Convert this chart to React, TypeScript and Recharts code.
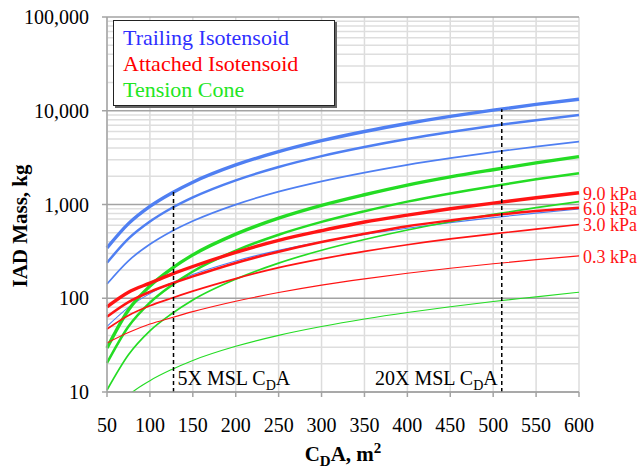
import {
  LineChart,
  Line,
  XAxis,
  YAxis,
  CartesianGrid,
  ReferenceLine,
  LabelList,
} from "recharts";

// C_D·A values the curves were read at (m²)
const cda = [50, 75, 100, 125, 150, 200, 250, 300, 350, 400, 450, 500, 550, 600];

// Trailing isotensoid mass, kg
const trailing9 = [344, 625, 955, 1320, 1730, 2640, 3660, 4790, 6010, 7310, 8700, 10150, 11680, 13270];
const trailing6 = [239, 432, 658, 912, 1190, 1810, 2510, 3280, 4100, 4990, 5920, 6910, 7940, 9020];
const trailing3 = [142, 251, 376, 515, 666, 998, 1370, 1765, 2190, 2650, 3120, 3620, 4140, 4680];
const trailing03 = [50, 80, 112, 145, 179, 250, 324, 400, 479, 559, 641, 725, 810, 895];

// Attached isotensoid mass, kg
const attached9 = [81, 116, 145, 180, 218, 308, 415, 525, 650, 770, 900, 1035, 1180, 1335];
const attached6 = [63.5, 91, 117, 143, 171, 238, 314, 398, 487, 587, 676, 767, 850, 925];
const attached3 = [47, 65.5, 83, 100, 119, 162, 212, 263, 316, 372, 429, 486, 546, 612];
const attached03 = [33.3, 43, 53, 62, 72, 93, 115, 138, 161, 185, 209, 233, 258, 283];

// Tension cone mass, kg
const cone9 = [29.5, 75, 135, 206, 290, 483, 714, 978, 1270, 1610, 1970, 2350, 2780, 3240];
const cone6 = [20.4, 50, 90, 137, 193, 322, 476, 652, 847, 1073, 1311, 1569, 1855, 2150];
const cone3 = [10.5, 25, 45, 68, 96, 160, 237, 325, 423, 535, 655, 785, 925, 1072];
const cone03 = [5, 9.2, 13.2, 17.3, 21.7, 30.7, 40.2, 49.9, 60.1, 70.6, 81.3, 92.3, 103.5, 116];

const xTicks = [50, 100, 150, 200, 250, 300, 350, 400, 450, 500, 550, 600];
const decadeTicks = [10, 100, 1000, 10000, 100000];
const minorTicks = [
  20, 30, 40, 50, 60, 70, 80, 90,
  200, 300, 400, 500, 600, 700, 800, 900,
  2000, 3000, 4000, 5000, 6000, 7000, 8000, 9000,
  20000, 30000, 40000, 50000, 60000, 70000, 80000, 90000,
];

// 5X and 20X MSL C_D·A markers
const mslNames = ["5X", "20X"];
const mslCda = [127.5, 510];
const mslTop = [1400, 10400];

const pressureLabels = ["9.0 kPa", "6.0 kPa", "3.0 kPa", "0.3 kPa"];
const familyNames = ["Trailing Isotensoid", "Attached Isotensoid", "Tension Cone"];
const familyColors = ["#2f2fff", "#ff0000", "#22e622"];

const BLUE = "#4f7ff2";
const RED = "#ff1414";
const GREEN = "#24dc24";
const FONT = '"Liberation Serif", "Times New Roman", serif';
const widths = [3.4, 2.5, 1.7, 1.1];

const data = cda.map((x, i) => ({
  x,
  t9: trailing9[i],
  t6: trailing6[i],
  t3: trailing3[i],
  t03: trailing03[i],
  a9: attached9[i],
  a6: attached6[i],
  a3: attached3[i],
  a03: attached03[i],
  c9: cone9[i],
  c6: cone6[i],
  c3: cone3[i],
  c03: cone03[i],
}));

const families = [
  { keys: ["t9", "t6", "t3", "t03"], color: BLUE },
  { keys: ["c9", "c6", "c3", "c03"], color: GREEN },
  { keys: ["a9", "a6", "a3", "a03"], color: RED },
];

const endLabel = (text: string) => (p: any) => {
  if (p.index !== cda.length - 1) return null;
  const x = p.viewBox?.x ?? p.x;
  const y = p.viewBox?.y ?? p.y;
  return (
    <text x={x + 4} y={y + 7} fill={RED} fontSize={18} style={{ fontFamily: FONT }}>
      {text}
    </text>
  );
};

function MslLabel(props: any) {
  const { viewBox, name, side } = props;
  if (!viewBox) return null;
  const bottom = viewBox.y + viewBox.height;
  const right = side === "right";
  return (
    <text
      x={right ? viewBox.x + 4 : viewBox.x - 4}
      y={bottom - 7}
      textAnchor={right ? "start" : "end"}
      fontSize={20}
      style={{ fontFamily: FONT }}
      fill="#000"
    >
      {name} MSL C
      <tspan dy={5} fontSize={14}>D</tspan>
      <tspan dy={-5}>A</tspan>
    </text>
  );
}

function XTitle(props: any) {
  const vb = props.viewBox;
  if (!vb) return null;
  return (
    <text
      x={vb.x + vb.width / 2}
      y={vb.y + 69}
      textAnchor="middle"
      fontSize={21}
      fontWeight="bold"
      style={{ fontFamily: FONT }}
      fill="#000"
    >
      C<tspan dy={5} fontSize={15}>D</tspan>
      <tspan dy={-5}>A, m</tspan>
      <tspan dy={-8} fontSize={15}>2</tspan>
    </text>
  );
}

function YTitle() {
  return (
    <text
      x={27}
      y={226}
      transform="rotate(-90, 27, 226)"
      textAnchor="middle"
      fontSize={21}
      fontWeight="bold"
      style={{ fontFamily: FONT }}
      fill="#000"
    >
      IAD Mass, kg
    </text>
  );
}

export default function App() {
  const tick = { fill: "#000", fontSize: 20, fontFamily: FONT };
  return (
    <div
      style={{
        position: "absolute",
        left: 0,
        top: 0,
        width: 641,
        height: 470,
        background: "#fff",
        fontFamily: FONT,
      }}
    >
      <LineChart
        width={641}
        height={470}
        data={data}
        margin={{ top: 17, right: 62, bottom: 38, left: 0 }}
      >
        <CartesianGrid horizontal={false} stroke="#dcdcdc" strokeWidth={1.5} />
        {minorTicks.map((v) => (
          <ReferenceLine key={v} y={v} stroke="#dedede" strokeWidth={1.5} />
        ))}
        <CartesianGrid vertical={false} stroke="#a3a3a3" strokeWidth={1.5} />
        <XAxis
          dataKey="x"
          type="number"
          domain={[50, 600]}
          ticks={xTicks}
          interval={0}
          height={40}
          tickSize={5}
          tickMargin={21}
          tick={tick}
          tickLine={{ stroke: "#a3a3a3", strokeWidth: 1.5 }}
          axisLine={{ stroke: "#a3a3a3", strokeWidth: 1.5 }}
          label={<XTitle />}
        />
        <YAxis
          type="number"
          scale="log"
          domain={[10, 100000]}
          ticks={decadeTicks}
          allowDataOverflow
          width={107}
          tickSize={5}
          tickMargin={13}
          tick={tick}
          tickLine={{ stroke: "#a3a3a3", strokeWidth: 1.5 }}
          axisLine={{ stroke: "#a3a3a3", strokeWidth: 1.5 }}
          tickFormatter={(v: number) => v.toLocaleString("en-US")}
          label={<YTitle />}
        />
        {families.map((f) =>
          f.keys.map((k, j) => (
            <Line
              key={k}
              dataKey={k}
              type="monotone"
              stroke={f.color}
              strokeWidth={widths[j]}
              dot={false}
              activeDot={false}
              isAnimationActive={false}
            >
              {f.color === RED && (
                <LabelList dataKey={k} content={endLabel(pressureLabels[j])} />
              )}
            </Line>
          ))
        )}
        {mslCda.map((x, i) => (
          <ReferenceLine
            key={x}
            segment={[
              { x, y: 10 },
              { x, y: mslTop[i] },
            ]}
            stroke="#000"
            strokeWidth={1.5}
            strokeDasharray="4 3"
            label={<MslLabel name={mslNames[i]} side={i === 0 ? "right" : "left"} />}
          />
        ))}
      </LineChart>
      <div
        style={{
          position: "absolute",
          left: 113,
          top: 20,
          width: 222,
          height: 86,
          boxSizing: "border-box",
          border: "1px solid #222",
          boxShadow: "2px 2px 0 #666",
          background: "#fff",
          padding: "4px 0 0 9px",
          fontFamily: FONT,
          fontSize: 22,
          lineHeight: "26px",
        }}
      >
        {familyNames.map((n, i) => (
          <div key={n} style={{ color: familyColors[i] }}>
            {n}
          </div>
        ))}
      </div>
    </div>
  );
}
